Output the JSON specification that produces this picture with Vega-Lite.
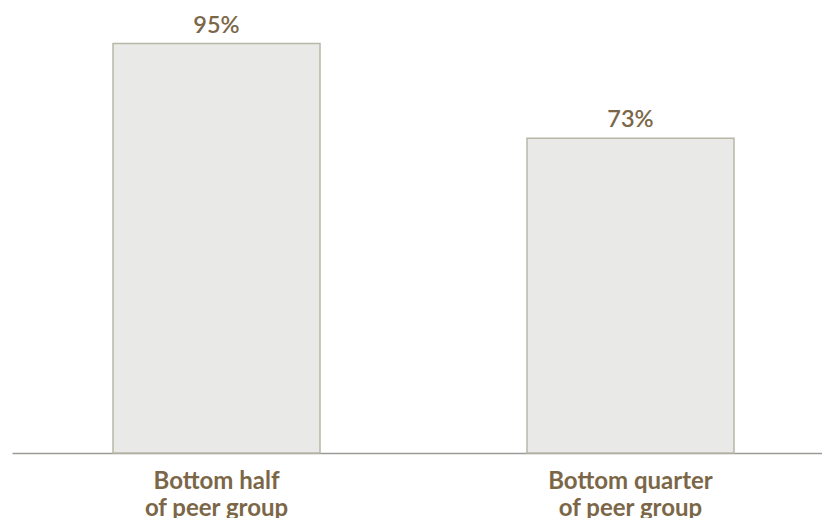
{
  "$schema": "https://vega.github.io/schema/vega-lite/v6.json",
  "autosize": "none",
  "padding": {"left": 12, "top": 22, "right": 0, "bottom": 65},
  "width": 823,
  "height": 431,
  "background": "white",
  "data": {"values": [
    {"group": "Bottom half|of peer group", "value": 95, "label": "95%"},
    {"group": "Bottom quarter|of peer group", "value": 73, "label": "73%"}
  ]},
  "config": {"view": {"stroke": null}, "font": "Lato"},
  "encoding": {
    "x": {"field": "group", "type": "nominal", "sort": null,
      "scale": {"paddingInner": 0.5, "paddingOuter": 0.244},
      "axis": {"title": null, "labelAngle": 0, "ticks": false, "domainColor": "#9a9a96", "domainWidth": 1.5,
        "labelExpr": "split(datum.label, '|')", "labelFont": "Lato", "labelFontSize": 24, "labelFontWeight": "bold",
        "labelColor": "#7b6748", "labelPadding": 16, "labelLineHeight": 27, "labelBaseline": "top"}},
    "y": {"field": "value", "type": "quantitative", "scale": {"domain": [0, 100]}, "axis": null}
  },
  "layer": [
    {"mark": {"type": "bar", "fill": "#e9eae8", "stroke": "#b8b7a7", "strokeWidth": 1.5}},
    {"mark": {"type": "text", "baseline": "alphabetic", "dy": -11, "font": "Lato", "fontSize": 23.5, "fontWeight": 600, "color": "#7b6748"},
      "encoding": {"text": {"field": "label"}}}
  ]
}
